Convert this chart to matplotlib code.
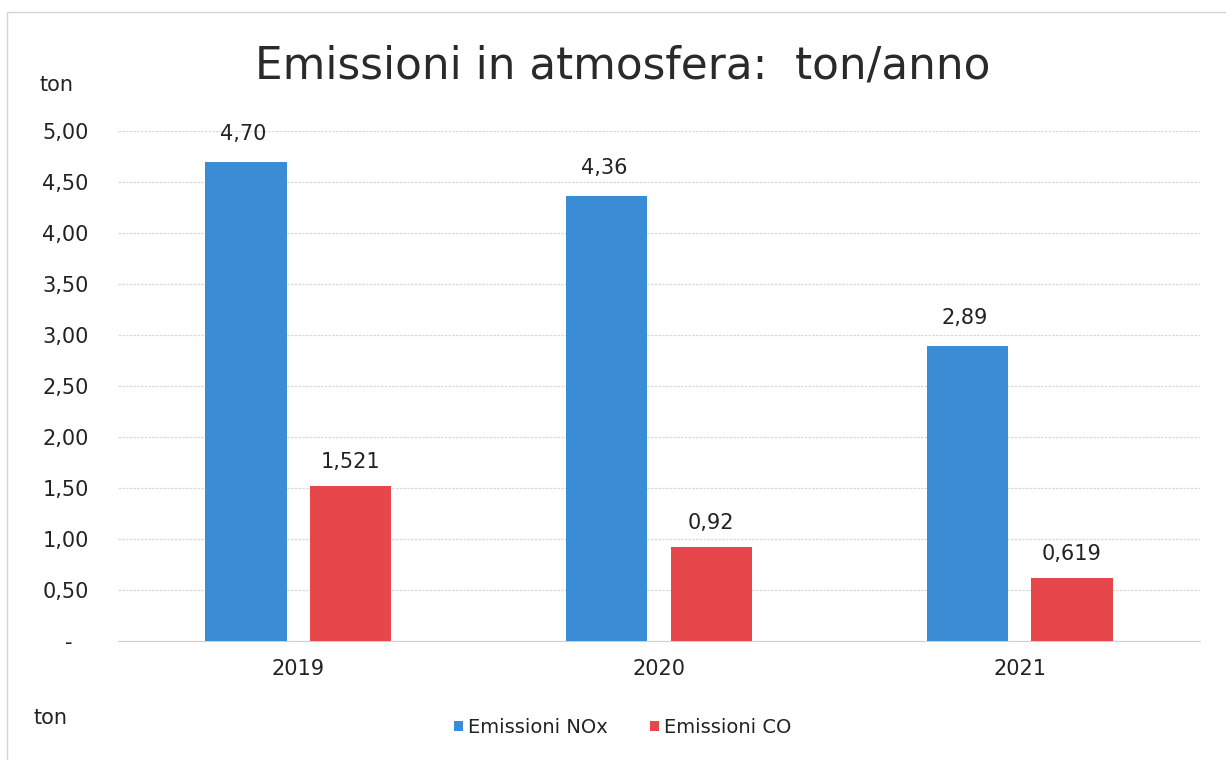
import matplotlib
matplotlib.use("Agg")
import matplotlib.pyplot as plt
import matplotlib.transforms as mtransforms
from matplotlib.patches import Rectangle
import numpy as np

years = ["2019", "2020", "2021"]
nox = [4.70, 4.36, 2.89]
co = [1.521, 0.92, 0.619]
nox_labels = ["4,70", "4,36", "2,89"]
co_labels = ["1,521", "0,92", "0,619"]
yticks = [0, 0.5, 1.0, 1.5, 2.0, 2.5, 3.0, 3.5, 4.0, 4.5, 5.0]
ytick_labels = ["-", "0,50", "1,00", "1,50", "2,00", "2,50", "3,00", "3,50", "4,00", "4,50", "5,00"]

blue = "#3a8dd4"
red = "#e5474b"
txt = "#222222"

plt.rcParams['font.family'] = ['DejaVu Sans']
fig = plt.figure(figsize=(12.26, 7.6), dpi=100)
ax = fig.add_axes([0.0962, 0.1566, 0.8826, 0.671])

x = np.arange(len(years))
w = 0.225
off = 0.145
b1 = ax.bar(x - off, nox, w, color=blue, label="Emissioni NOx", zorder=3)
b2 = ax.bar(x + off, co, w, color=red, label="Emissioni CO", zorder=3)

for xi, v, t in zip(x - off, nox, nox_labels):
    ax.annotate(t, (xi, v), xytext=(-2, 13), textcoords="offset points",
                ha="center", va="bottom", fontsize=15, color=txt)
for xi, v, t in zip(x + off, co, co_labels):
    ax.annotate(t, (xi, v), xytext=(0, 10), textcoords="offset points",
                ha="center", va="bottom", fontsize=15, color=txt)

ax.set_xlim(-0.5, 2.5)
ax.set_ylim(0, 5.0)
ax.set_yticks(yticks)
ax.set_yticklabels(ytick_labels, fontsize=15, color=txt)
ax.set_xticks(x)
ax.set_xticklabels(years, fontsize=15, color=txt)
ax.tick_params(axis="both", length=0)
ax.tick_params(axis="y", pad=21)
ax.tick_params(axis="x", pad=13)
# Excel accounting-style zero dash sits further left
dash = ax.get_yticklabels()[0]
dash.set_transform(dash.get_transform() + mtransforms.ScaledTranslation(-16 / 100, 0, fig.dpi_scale_trans))
for s in ["top", "right", "left"]:
    ax.spines[s].set_visible(False)
ax.spines["bottom"].set_color("#d0d0d0")
ax.yaxis.grid(True, color="#d8d8d8", linestyle=(0, (2, 1)), linewidth=0.9, zorder=0)
ax.set_axisbelow(True)

fig.text(0.508, 0.913, "Emissioni in atmosfera:  ton/anno", ha="center", va="center",
         fontsize=31.5, color="#2a2a2a")
fig.text(0.046, 0.888, "ton", ha="center", va="center", fontsize=15, color=txt)
fig.text(0.041, 0.055, "ton", ha="center", va="center", fontsize=15, color=txt)

leg = fig.legend(handles=[b1, b2], labels=["Emissioni NOx", "Emissioni CO"],
                 loc="center", bbox_to_anchor=(0.508, 0.043), ncol=2, frameon=False,
                 fontsize=14, handlelength=0.45, handleheight=0.45, handletextpad=0.25,
                 columnspacing=2.2)
for t in leg.get_texts():
    t.set_color(txt)

fig.patches.append(Rectangle((0.006, -0.1), 1.2, 1.084, transform=fig.transFigure,
                             fill=False, edgecolor="#d5d5d5", linewidth=1.0))

fig.savefig("out.png", dpi=100, facecolor="white")
